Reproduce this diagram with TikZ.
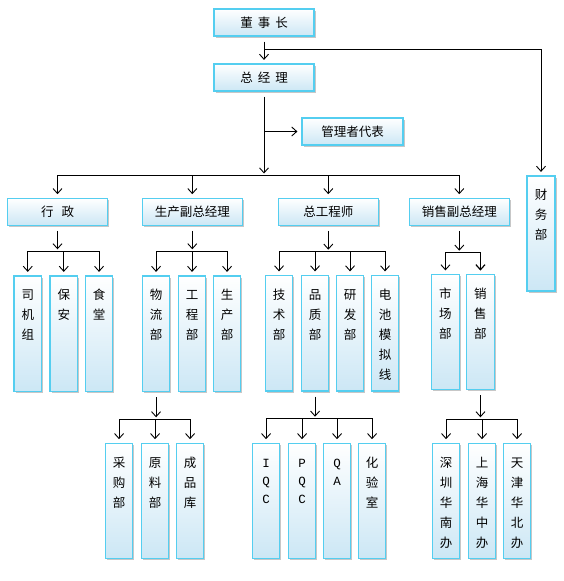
\documentclass[tikz,border=0pt]{standalone}
\usepackage{fontspec}
\newfontfamily\cjk{Noto Sans CJK SC}
\newfontfamily\lmono{Liberation Mono}
\usetikzlibrary{arrows.meta,shadows,calc}
\definecolor{boxedge}{RGB}{84,206,240}
\definecolor{boxfill}{RGB}{204,231,245}
\renewcommand\arraystretch{1.3333}
\tikzset{
  box/.style={draw=boxedge, line width=1.2pt, top color=white, bottom color=boxfill,
    inner sep=0pt, drop shadow={shadow xshift=1.6pt, shadow yshift=-1.6pt, fill=black, opacity=0.22},
    font=\cjk\fontsize{12.5pt}{15pt}\selectfont},
  vtxt/.style={inner sep=0pt, anchor=base, font=\cjk\fontsize{12.5pt}{15pt}\selectfont},
  ltxt/.style={inner sep=0pt, anchor=base, font=\lmono\fontsize{12.5pt}{13.5pt}\selectfont},
  conn/.style={line width=0.9pt, draw=black},
  arr/.style={conn, -{Straight Barb[length=5pt,width=9pt]}},
}
% box: name x1 y1 x2 y2 text
\newcommand\bx[6]{\node[box, minimum width={#4pt-#2pt}, minimum height={#5pt-#3pt}] (#1) at ({(#2+#4)/2},{(#3+#5)/2}) {#6};}
\newcommand\vt[2]{\node[vtxt] (#1-t) at ([yshift=-24.5pt]#1.north) {\begin{tabular}[t]{@{}c@{}}#2\end{tabular}};}
\newcommand\vl[2]{\node[ltxt] (#1-t) at ([yshift=-24.5pt]#1.north) {\begin{tabular}[t]{@{}c@{}}#2\end{tabular}};}
% fan: parent, bus y, first child, last child, middle children
\newcommand\fan[5]{%
  \coordinate (#1-y) at (0,#2);
  \coordinate (#1-j) at (#1.south |- #1-y);
  \draw[arr] ([yshift=-5pt]#1.south) -- ([yshift=2pt]#1-j);
  \draw[arr] (#1-j) -| ([yshift=3.5pt]#3.north);
  \draw[arr] (#1-j) -| ([yshift=3.5pt]#4.north);
  \foreach \c in {#5} {\draw[arr] (\c.north |- #1-y) -- ([yshift=3.5pt]\c.north);}
}
\begin{document}
\begin{tikzpicture}[x=1pt,y=-1pt]
\path[use as bounding box, fill=white] (0,0) rectangle (563,581);

% top level
\bx{dsz}{214}{9}{314}{36}{董\hspace{5pt}事\hspace{5pt}长}
\bx{zjl}{214}{64}{314}{91}{总\hspace{5pt}经\hspace{5pt}理}
\bx{glz}{302}{118}{403}{145}{管理者代表}
\bx{cwb}{527}{176}{555}{291}{}
\vt{cwb}{财\\务\\部}

% row 2
\bx{xz}{7.3}{198.3}{107.7}{225.3}{行\hspace{8pt}政}
\bx{scf}{142.3}{198.3}{242.3}{225.3}{生产副总经理}
\bx{zgc}{278.3}{198.3}{378.3}{225.3}{总工程师}
\bx{xsf}{409.3}{198.3}{509.3}{225.3}{销售副总经理}

% row 3
\bx{sjz}{14}{276}{41.5}{391.5}{}\vt{sjz}{司\\机\\组}
\bx{ba}{50}{276}{77.5}{391.5}{}\vt{ba}{保\\安}
\bx{st}{85.3}{276}{112.8}{391.5}{}\vt{st}{食\\堂}
\bx{wl}{142.3}{276}{169.8}{391.5}{}\vt{wl}{物\\流\\部}
\bx{gcb}{178.3}{276}{205.8}{391.5}{}\vt{gcb}{工\\程\\部}
\bx{scb}{213.3}{276}{240.8}{391.5}{}\vt{scb}{生\\产\\部}
\bx{jsb}{265.3}{275.5}{292.8}{391}{}\vt{jsb}{技\\术\\部}
\bx{pzb}{301.3}{275.5}{328.8}{391}{}\vt{pzb}{品\\质\\部}
\bx{yfb}{336.3}{275.5}{363.8}{391}{}\vt{yfb}{研\\发\\部}
\bx{dc}{371.3}{275.5}{398.8}{391}{}\vt{dc}{电\\池\\模\\拟\\线}
\bx{scbm}{431.7}{274.5}{459.2}{389.5}{}\vt{scbm}{市\\场\\部}
\bx{xsb}{466.7}{274.5}{494.2}{389.5}{}\vt{xsb}{销\\售\\部}

% row 4
\bx{cg}{105.3}{443.3}{132.8}{558.3}{}\vt{cg}{采\\购\\部}
\bx{yl}{141.3}{443.3}{168.8}{558.3}{}\vt{yl}{原\\料\\部}
\bx{cp}{176.3}{443.3}{203.8}{558.3}{}\vt{cp}{成\\品\\库}
\bx{iqc}{252.3}{443.3}{279.8}{558.3}{}\vl{iqc}{I\\Q\\C}
\bx{pqc}{288.3}{443.3}{315.8}{558.3}{}\vl{pqc}{P\\Q\\C}
\bx{qa}{323.3}{443.3}{350.8}{558.3}{}\vl{qa}{Q\\A}
\bx{hys}{358.3}{443.3}{385.8}{558.3}{}\vt{hys}{化\\验\\室}
\bx{sz}{432.3}{443.3}{459.8}{558.3}{}\vt{sz}{深\\圳\\华\\南\\办}
\bx{sh}{468.3}{443.3}{495.8}{558.3}{}\vt{sh}{上\\海\\华\\中\\办}
\bx{tj}{503.3}{443.3}{530.8}{558.3}{}\vt{tj}{天\\津\\华\\北\\办}

% connectors: top
\draw[arr] ([yshift=-5pt]dsz.south) -- ([yshift=3.5pt]zjl.north);
\coordinate (cwb-y) at (0,49.7);
\coordinate (cwb-j) at (dsz.south |- cwb-y);
\draw[arr] (cwb-j) -| ([yshift=3.5pt]cwb.north);
\coordinate (glz-j) at (zjl.south |- glz.west);
\draw[arr] (glz-j) -- ([xshift=-4pt]glz.west);

% fans
\fan{zjl}{175.5}{xz}{xsf}{scf,zgc}
\fan{xz}{251.3}{sjz}{st}{ba}
\fan{scf}{251.3}{wl}{scb}{gcb}
\fan{zgc}{251.7}{jsb}{dc}{pzb,yfb}
\fan{xsf}{252.7}{scbm}{xsb}{xsb}
\fan{wl}{419.3}{cg}{cp}{yl}
\fan{pzb}{418.7}{iqc}{hys}{pqc,qa}
\fan{xsb}{419.3}{sz}{tj}{sh}
\end{tikzpicture}
\end{document}
